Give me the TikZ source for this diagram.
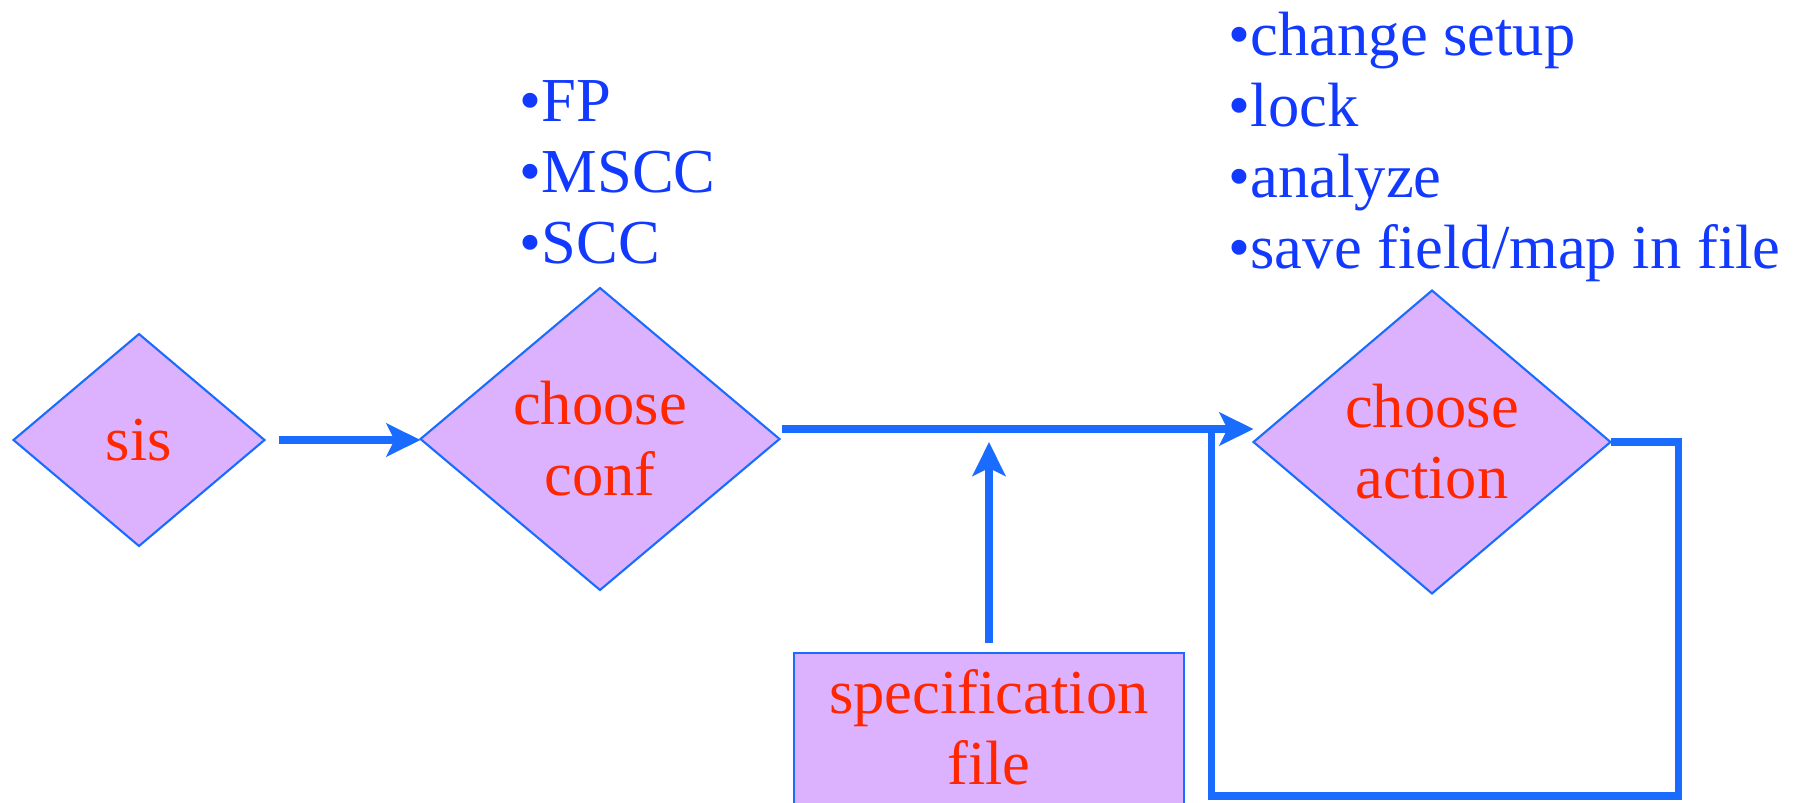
\documentclass[tikz,border=0pt]{standalone}
\usepackage{fontspec}
\setmainfont{Liberation Serif}
\usetikzlibrary{shapes.geometric,arrows.meta}

\definecolor{boxfill}{RGB}{220,178,255}
\definecolor{edgeblue}{RGB}{26,108,255}
\definecolor{labelred}{RGB}{255,38,0}
\definecolor{listblue}{RGB}{18,58,255}

\begin{document}
\begin{tikzpicture}[
    font=\fontsize{17.8}{20.2}\selectfont,
    decision/.style={diamond, draw=edgeblue, fill=boxfill, line width=0.6pt, text=labelred, align=center, inner sep=0pt, outer sep=0pt},
    filebox/.style={rectangle, draw=edgeblue, fill=boxfill, line width=0.6pt, text=labelred, align=center, inner xsep=0pt, inner ysep=0.16cm, outer sep=0pt},
    flow/.style={-{Stealth[length=3.4mm, width=3.3mm, inset=0.8mm]}, line width=2pt, draw=edgeblue},
    link/.style={line width=2pt, draw=edgeblue, line join=miter},
    optlist/.style={anchor=north west, align=left, inner sep=0pt, text=listblue}
]
    \clip (0,0) rectangle (18.07,8.02);

    % Etapes du traitement
    \node[decision, minimum width=2.51cm, minimum height=2.12cm] (sis) at (1.39,3.62) {sis};
    \node[decision, minimum width=3.59cm, minimum height=3.02cm] (conf) at (6.00,3.63) {choose\\conf};
    \node[decision, minimum width=3.57cm, minimum height=3.03cm] (action) at (14.32,3.60) {choose\\action};
    \node[filebox, anchor=north, minimum width=3.90cm, text depth=1.0cm] (spec) at (9.89,1.49) {specification\\file};

    % Options
    \node[optlist] (conflist) at (5.19,7.22) {\textbullet FP\\\textbullet MSCC\\\textbullet SCC};
    \node[optlist] (actlist) at (12.28,7.91) {\textbullet change setup\\\textbullet lock\\\textbullet analyze\\\textbullet save field/map in file};

    % Liaisons
    \coordinate (bus) at ([yshift=0.1cm]conf.east);
    \coordinate (join) at (spec.north |- bus);
    \coordinate[xshift=-0.42cm] (loopin) at (bus -| action.west);

    \draw[flow, shorten <=0.14cm] (sis.east) -- (sis.east -| conf.west);
    \draw[flow, shorten <=0.02cm] (bus) -- (bus -| action.west);
    \draw[flow, shorten <=0.1cm, shorten >=0.13cm] (spec.north) -- (join);
    \draw[link] (action.east) -- ++(0.68,0) -- ++(0,-3.54) -| (loopin);

\end{tikzpicture}
\end{document}
